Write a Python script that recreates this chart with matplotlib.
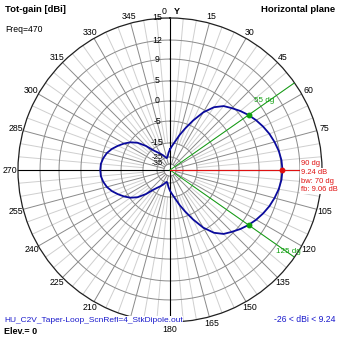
import numpy as np
import matplotlib
matplotlib.use('Agg')
import matplotlib.pyplot as plt

plt.rcParams['font.family'] = ['Liberation Sans', 'DejaVu Sans']

# log-periodic radial scale: ring value (dBi) -> fraction of outer radius
scale_db = [-100, -35, -25, -15, -5, 0, 5, 9, 12, 15, 40]
scale_fr = [0.0, 0.04, 0.0855, 0.178, 0.322, 0.454, 0.586, 0.730, 0.855, 1.0, 2.83]

ring_db = [12, 9, 5, 0, -5, -15, -25, -35]
ring_labels = ['15', '12', '9', '5', '0', '-5', '-15', '-25', '-35']
ring_label_db = [15, 12, 9, 5, 0, -5, -15, -25, -35]

# horizontal plane pattern, azimuth every 5 deg
azimuth = list(range(0, 360, 5))
gain = [-19.5, -17.0, -14.2, -11.0, -7.2, -3.6, -0.6, 1.9, 3.6, 4.6,
        5.5, 6.24, 6.9, 7.5, 8.05, 8.5, 8.9, 9.15, 9.24, 9.15,
        8.9, 8.5, 8.05, 7.5, 6.9, 6.24, 5.5, 4.6, 3.6, 1.9,
        -0.6, -3.6, -7.2, -11.0, -14.2, -17.0, -19.5, -22.0, -24.5, -26.0,
        -24.5, -22.8, -21.0, -19.0, -16.0, -11.8, -8.0, -5.3, -4.0, -2.9,
        -1.8, -0.9, -0.3, 0.1, 0.18, 0.1, -0.3, -0.9, -1.8, -2.9,
        -4.0, -5.3, -8.0, -11.8, -16.0, -19.0, -21.0, -22.8, -24.5, -26.0,
        -24.5, -22.0]

max_az, max_gain = 90, 9.24
bw_az = [55, 125]
bw_gain = 6.24
fb_ratio = 9.06

NAVY = '#0a0a9c'
RED = '#e01010'
GREEN = '#10a010'


def fwd(x):
    return np.interp(x, scale_db, scale_fr)


def inv(y):
    return np.interp(y, scale_fr, scale_db)


fig = plt.figure(figsize=(3.39, 3.39), dpi=100)
ax = fig.add_axes([18/339, 17/339, 304/339, 304/339], projection='polar')
ax.set_theta_zero_location('N')
ax.set_theta_direction(-1)
ax.set_rscale('function', functions=(fwd, inv))
ax.set_rlim(-100, 15)
ax.grid(False)
ax.set_xticks([])
ax.set_yticks([])
ax.spines['polar'].set_color('#202020')
ax.spines['polar'].set_linewidth(0.9)

# rings
tt = np.linspace(0, 2*np.pi, 721)
for v in ring_db:
    ax.plot(tt, np.full_like(tt, v), color='#8a8a8a', lw=0.7, zorder=1)

# spokes
for a in range(0, 360, 5):
    t = np.radians(a)
    if a % 90 == 0:
        ax.plot([t, t], [-100, 15], color='black', lw=0.8, zorder=2)
    elif a % 15 == 0:
        ax.plot([t, t], [-35, 15], color='#8a8a8a', lw=0.7, zorder=1)
    else:
        ax.plot([t, t], [-15, 15], color='#cfcfcf', lw=0.7, zorder=0.9)

# beamwidth and max lines
for a in bw_az:
    ax.plot([np.radians(a)]*2, [-100, 15], color=GREEN, lw=0.7, zorder=3)
ax.plot([np.radians(max_az)]*2, [-100, 15], color=RED, lw=0.8, zorder=3)

th = np.radians(azimuth + [azimuth[0]])
ax.plot(th, gain + [gain[0]], color=NAVY, lw=1.3, zorder=4)

ax.plot(np.radians(bw_az), [bw_gain]*2, 'o', color=GREEN, ms=3.2, zorder=5)
ax.plot(np.radians(max_az), max_gain, 'o', color=RED, ms=3.2, zorder=5)

# azimuth labels (90 and 195 sit under the text blocks)
for a in range(15, 360, 15):
    if a in (90, 195):
        continue
    t = np.radians(a)
    ax.annotate(str(a), xy=(t, 15), xytext=(8.0*np.sin(t), 7.0*np.cos(t)),
                textcoords='offset pixels', ha='center', va='center',
                fontsize=6.3, annotation_clip=False, zorder=6)
ax.annotate('0', xy=(0, 15), xytext=(-4, 7), textcoords='offset pixels',
            ha='right', va='center', fontsize=6.3, annotation_clip=False)
ax.annotate('Y', xy=(0, 15), xytext=(4, 7), textcoords='offset pixels',
            ha='left', va='center', fontsize=6.5, fontweight='bold',
            annotation_clip=False)

# ring labels along the vertical axis
for v, s in zip(ring_label_db, ring_labels):
    ax.annotate(s, xy=(0, v), xytext=(-13, 0), textcoords='offset pixels',
                ha='center', va='center', fontsize=6.3 if v > -25 else 5.6,
                zorder=6)

ax.annotate('%d dg' % bw_az[0], xy=(np.radians(bw_az[0]), 15), xytext=(-30, -18),
            textcoords='offset pixels', ha='center', va='center', fontsize=5.8,
            color=GREEN, zorder=7, annotation_clip=False)
ax.annotate('%d dg' % bw_az[1], xy=(np.radians(bw_az[1]), 15), xytext=(-6, 6),
            textcoords='offset pixels', ha='center', va='center', fontsize=5.8,
            color=GREEN, zorder=7, annotation_clip=False)

info = ['%d dg' % max_az, '%.2f dB' % max_gain,
        'bw: %d dg' % (bw_az[1] - bw_az[0]), 'fb: %.2f dB' % fb_ratio]
for i, s in enumerate(info):
    fig.text(301/339, 1 - (164 + 8.6*i)/339, s, color=RED, fontsize=5.4,
             ha='left', va='center', zorder=8,
             bbox=dict(facecolor='white', edgecolor='none', pad=0.6))

fig.text(5/339, 1 - 9/339, 'Tot-gain [dBi]', fontsize=6.8, fontweight='bold',
         va='center')
fig.text(5/339, 1 - 29/339, 'Freq=470', fontsize=6.2, va='center')
fig.text(335/339, 1 - 10/339, 'Horizontal plane', fontsize=6.8,
         fontweight='bold', ha='right', va='center')
fig.text(4/339, 1 - 320/339, 'HU_C2V_Taper-Loop_ScnRefl=4_StkDipole.out',
         fontsize=6, color='#1a1acc', va='center', zorder=8,
         bbox=dict(facecolor='white', edgecolor='none', pad=0.2))
fig.text(4/339, 1 - 331/339, 'Elev.= 0', fontsize=6.5, fontweight='bold',
         va='center')
fig.text(336/339, 1 - 320/339, '-26 < dBi < 9.24', fontsize=6.2,
         color='#1a1acc', ha='right', va='center')

fig.savefig('out.png', dpi=100)
